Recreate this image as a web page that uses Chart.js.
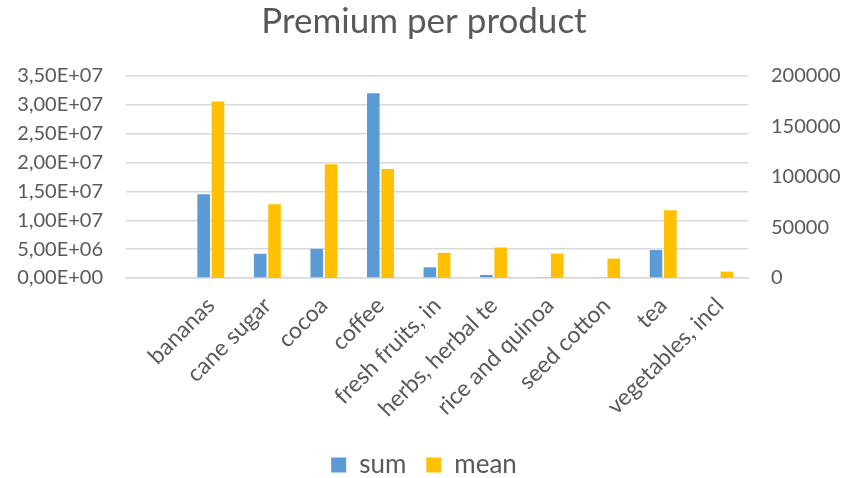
<!DOCTYPE html>
<html>
<head>
<meta charset="utf-8">
<script src="https://cdn.jsdelivr.net/npm/chart.js@4"></script>
<style>
  html, body { margin: 0; padding: 0; background: #fff; }
  #wrap { width: 848px; height: 478px; }
</style>
</head>
<body>
<div id="wrap"><canvas id="c" width="848" height="478"></canvas></div>
<script>
// Product groups (the first slot is an unlabeled, empty category)
const categories = ['', 'bananas', 'cane sugar', 'cocoa', 'coffee', 'fresh fruits, in',
  'herbs, herbal te', 'rice and quinoa', 'seed cotton', 'tea', 'vegetables, incl'];

// Total premium per product (left axis)
const sumValues = [null, 14500000, 4200000, 5050000, 32000000, 1850000,
  520000, 170000, 150000, 4850000, 0];

// Mean premium per product (right axis)
const meanValues = [null, 174700, 72900, 112700, 107800, 24900,
  30200, 24200, 19200, 67000, 6300];

// Axis ranges
const leftMax = 35000000, leftStep = 5000000;
const rightMax = 200000, rightStep = 50000;

const textColor = '#595959';
const gridColor = '#d9d9d9';
const fontFamily = 'Lato, "Open Sans", sans-serif';

// 3,50E+07 style labels
function sciLabel(v) {
  if (v === 0) return '0,00E+00';
  const e = Math.floor(Math.log10(v) + 1e-9);
  const m = v / Math.pow(10, e);
  return m.toFixed(2).replace('.', ',') + 'E+' + String(e).padStart(2, '0');
}

new Chart(document.getElementById('c'), {
  type: 'bar',
  data: {
    labels: categories,
    datasets: [
      {
        label: 'sum',
        data: sumValues,
        yAxisID: 'y',
        backgroundColor: '#5B9BD5',
        categoryPercentage: 0.506,
        barPercentage: 0.88
      },
      {
        label: 'mean',
        data: meanValues,
        yAxisID: 'y1',
        backgroundColor: '#FFC000',
        categoryPercentage: 0.506,
        barPercentage: 0.88
      }
    ]
  },
  options: {
    responsive: false,
    animation: false,
    layout: { padding: { top: 0, left: 0, right: 0, bottom: -10 } },
    plugins: {
      title: {
        display: true,
        text: 'Premium per product',
        color: textColor,
        font: { family: fontFamily, size: 35, weight: 'normal' },
        padding: { top: 1, bottom: 33 }
      },
      legend: {
        position: 'bottom',
        labels: {
          color: textColor,
          font: { family: fontFamily, size: 26 },
          boxWidth: 15,
          boxHeight: 15,
          padding: 20
        }
      },
      tooltip: { enabled: false }
    },
    scales: {
      x: {
        grid: { display: false, drawTicks: false },
        border: { display: true, color: gridColor, width: 1.5 },
        ticks: {
          color: textColor,
          font: { family: fontFamily, size: 23 },
          maxRotation: 45,
          minRotation: 45,
          autoSkip: false,
          padding: 14
        },
        afterFit: s => { s.height = 154; }
      },
      y: {
        position: 'left',
        min: 0,
        max: leftMax,
        grid: { color: gridColor, lineWidth: 1.5, drawTicks: false },
        border: { display: false },
        ticks: {
          stepSize: leftStep,
          color: textColor,
          font: { family: fontFamily, size: 20 },
          padding: 23,
          callback: v => sciLabel(v)
        },
        afterFit: s => { s.width = 126; }
      },
      y1: {
        position: 'right',
        min: 0,
        max: rightMax,
        grid: { display: false, drawTicks: false },
        border: { display: false },
        ticks: {
          stepSize: rightStep,
          color: textColor,
          font: { family: fontFamily, size: 20 },
          padding: 23,
          callback: v => String(v)
        },
        afterFit: s => { s.width = 100; }
      }
    }
  }
});
</script>
</body>
</html>
